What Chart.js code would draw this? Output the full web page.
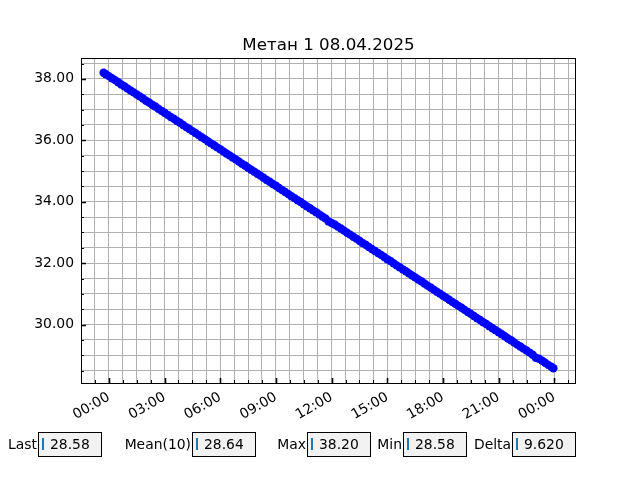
<!DOCTYPE html>
<html>
<head>
<meta charset="utf-8">
<title>Метан 1 08.04.2025</title>
<script src="https://cdn.jsdelivr.net/npm/chart.js@4.4.1/dist/chart.umd.min.js"></script>
<style>
    html, body { margin: 0; padding: 0; background: #fff; }
    #wrap { position: relative; width: 640px; height: 480px; font-family: "DejaVu Sans", sans-serif; }
    #chart { position: absolute; left: 0; top: 0; }
    .lbl { position: absolute; top: 432px; height: 25px; line-height: 25px; font-size: 13.9px; color: #000; text-align: right; white-space: nowrap; }
    .box { position: absolute; top: 432px; width: 64px; height: 25px; box-sizing: border-box; border: 1px solid #000; background: #f2f2f2; font-size: 13.9px; line-height: 23px; white-space: nowrap; color: #000; }
    .box .cur { position: absolute; left: 2.5px; top: 5px; width: 2px; height: 12px; background: #1f77b4; }
    .box .val { position: absolute; left: 11px; top: 0; }
</style>
</head>
<body>
<div id="wrap">
    <canvas id="chart" width="640" height="480"></canvas>
</div>
<script>
// Messzeitpunkte in Minuten ab 08.04.2025 00:00 (negativ = Vortag)
const timeMinutes = [
    -17, -10,
    0, 10, 20, 30, 40, 50, 60, 70, 80, 90, 100, 110,
    120, 130, 140, 150, 160, 170, 180, 190, 200, 210, 220, 230,
    240, 250, 260, 270, 280, 290, 300, 310, 320, 330, 340, 350,
    360, 370, 380, 390, 400, 410, 420, 430, 440, 450, 460, 470,
    480, 490, 500, 510, 520, 530, 540, 550, 560, 570, 580, 590,
    600, 610, 620, 630, 640, 650, 660, 670, 680, 690, 700, 710,
    720, 730, 740, 750, 760, 770, 780, 790, 800, 810, 820, 830,
    840, 850, 860, 870, 880, 890, 900, 910, 920, 930, 940, 950,
    960, 970, 980, 990, 1000, 1010, 1020, 1030, 1040, 1050, 1060, 1070,
    1080, 1090, 1100, 1110, 1120, 1130, 1140, 1150, 1160, 1170, 1180, 1190,
    1200, 1210, 1220, 1230, 1240, 1250, 1260, 1270, 1280, 1290, 1300, 1310,
    1320, 1330, 1340, 1350, 1360, 1370, 1380, 1390, 1400, 1410, 1420, 1430,
    1437
];

// Messwerte Methan 1
const methaneValues = [
    38.20, 38.15,
    38.09, 38.02, 37.96, 37.89, 37.82, 37.76, 37.69, 37.62, 37.56, 37.49, 37.43, 37.36,
    37.29, 37.23, 37.16, 37.10, 37.03, 36.96, 36.90, 36.83, 36.76, 36.70, 36.63, 36.57,
    36.50, 36.43, 36.37, 36.30, 36.24, 36.17, 36.10, 36.04, 35.97, 35.90, 35.84, 35.77,
    35.71, 35.64, 35.57, 35.51, 35.44, 35.38, 35.31, 35.24, 35.18, 35.11, 35.04, 34.98,
    34.91, 34.85, 34.78, 34.71, 34.65, 34.58, 34.52, 34.45, 34.38, 34.32, 34.25, 34.18,
    34.12, 34.05, 33.99, 33.92, 33.85, 33.79, 33.72, 33.66, 33.59, 33.52, 33.46, 33.36,
    33.31, 33.26, 33.19, 33.13, 33.06, 32.99, 32.93, 32.86, 32.80, 32.73, 32.66, 32.60,
    32.53, 32.46, 32.40, 32.33, 32.27, 32.20, 32.13, 32.07, 32.00, 31.93, 31.87, 31.80,
    31.74, 31.67, 31.60, 31.54, 31.47, 31.41, 31.34, 31.27, 31.21, 31.14, 31.07, 31.01,
    30.94, 30.88, 30.81, 30.74, 30.68, 30.61, 30.55, 30.48, 30.41, 30.35, 30.28, 30.21,
    30.15, 30.08, 30.02, 29.95, 29.88, 29.82, 29.75, 29.69, 29.62, 29.55, 29.49, 29.42,
    29.35, 29.29, 29.22, 29.16, 29.09, 29.02, 28.92, 28.89, 28.83, 28.76, 28.69, 28.63,
    28.58
];

// Achsenbeschriftung
const xTickMinutes = [0, 180, 360, 540, 720, 900, 1080, 1260, 1440];
const xTickLabels = ['00:00', '03:00', '06:00', '09:00', '12:00', '15:00', '18:00', '21:00', '00:00'];
const yTickValues = [30, 32, 34, 36, 38];
const yTickLabels = ['30.00', '32.00', '34.00', '36.00', '38.00'];

// Textfelder unter dem Diagramm
const statNames = ['Last', 'Mean(10)', 'Max', 'Min', 'Delta'];
const statValues = ['28.58', '28.64', '38.20', '28.58', '9.620'];
const statBoxLeft = [38, 192, 307, 403, 512];

const chartTitle = 'Метан 1 08.04.2025';
const fontFamily = '"DejaVu Sans", sans-serif';

// Gitter: Nebenlinien alle 45 min bzw. 0.5
const xGrid = [];
for (let m = -45; m <= 1485; m += 45) xGrid.push(m);
const yGrid = [];
for (let v = 28.5; v <= 38.5; v += 0.5) yGrid.push(Math.round(v * 10) / 10);

/*
 * Plugin: Rahmen, Ticks nach innen, Titel (wie matplotlib)
 */
const axesDecor = {
    id: 'axesDecor',
    afterDraw(chart) {
        const { ctx, chartArea: a, scales: { x, y } } = chart;
        ctx.save();
        ctx.strokeStyle = '#000';
        ctx.lineWidth = 1;

        // Nebenticks
        ctx.beginPath();
        xGrid.forEach(m => {
            const px = Math.round(x.getPixelForValue(m)) + 0.5;
            ctx.moveTo(px, a.bottom);
            ctx.lineTo(px, a.bottom - 3);
        });
        yGrid.forEach(v => {
            const py = Math.round(y.getPixelForValue(v)) + 0.5;
            ctx.moveTo(a.left, py);
            ctx.lineTo(a.left + 3, py);
        });
        ctx.stroke();

        // Hauptticks
        ctx.lineWidth = 1.6;
        ctx.beginPath();
        xTickMinutes.forEach(m => {
            const px = Math.round(x.getPixelForValue(m)) + 0.5;
            ctx.moveTo(px, a.bottom);
            ctx.lineTo(px, a.bottom - 5);
        });
        yTickValues.forEach(v => {
            const py = Math.round(y.getPixelForValue(v)) + 0.5;
            ctx.moveTo(a.left, py);
            ctx.lineTo(a.left + 5, py);
        });
        ctx.stroke();

        ctx.lineWidth = 1;
        ctx.strokeRect(a.left + 0.5, a.top + 0.5, a.right - a.left - 1, a.bottom - a.top);

        ctx.fillStyle = '#000';
        ctx.font = '16.7px ' + fontFamily;
        ctx.textAlign = 'center';
        ctx.textBaseline = 'alphabetic';
        ctx.fillText(chartTitle, (a.left + a.right) / 2, 49.5);
        ctx.restore();
    }
};

const points = timeMinutes.map((t, i) => ({ x: t, y: methaneValues[i] }));

new Chart(document.getElementById('chart'), {
    type: 'line',
    data: {
        datasets: [{
            label: 'Methan 1',
            data: points,
            borderColor: '#0000ff',
            backgroundColor: '#0000ff',
            borderWidth: 2,
            pointRadius: 4.2,
            pointBorderWidth: 0,
            pointBackgroundColor: '#0000ff',
            tension: 0
        }]
    },
    options: {
        responsive: false,
        animation: false,
        layout: {
            padding: { top: 58, right: 64, bottom: 0, left: 0 }
        },
        plugins: {
            legend: { display: false },
            title: { display: false },
            tooltip: { enabled: false }
        },
        scales: {
            x: {
                type: 'linear',
                min: -90,
                max: 1510,
                afterBuildTicks: scale => { scale.ticks = xGrid.map(v => ({ value: v })); },
                afterFit: scale => { scale.height = 97; },
                grid: { color: '#b0b0b0', lineWidth: 1, drawTicks: false },
                border: { display: false },
                ticks: {
                    autoSkip: false,
                    minRotation: 30,
                    maxRotation: 30,
                    padding: 6,
                    color: '#000',
                    font: { family: fontFamily, size: 13.9 },
                    callback: function (value) {
                        const idx = xTickMinutes.indexOf(value);
                        return idx >= 0 ? xTickLabels[idx] : '';
                    }
                }
            },
            y: {
                type: 'linear',
                min: 28.1,
                max: 38.68,
                afterBuildTicks: scale => { scale.ticks = yGrid.map(v => ({ value: v })); },
                afterFit: scale => { scale.width = 81; },
                grid: { color: '#b0b0b0', lineWidth: 1, drawTicks: false },
                border: { display: false },
                ticks: {
                    autoSkip: false,
                    padding: 7,
                    color: '#000',
                    font: { family: fontFamily, size: 13.9 },
                    callback: function (value) {
                        const idx = yTickValues.indexOf(value);
                        return idx >= 0 ? yTickLabels[idx] : '';
                    }
                }
            }
        }
    },
    plugins: [axesDecor]
});

// Textfelder (Last, Mean, Max, Min, Delta)
const wrap = document.getElementById('wrap');
statNames.forEach((name, i) => {
    const left = statBoxLeft[i];
    const lbl = document.createElement('div');
    lbl.className = 'lbl';
    lbl.style.right = (640 - left + 1) + 'px';
    lbl.textContent = name;
    wrap.appendChild(lbl);

    const box = document.createElement('div');
    box.className = 'box';
    box.style.left = left + 'px';
    box.innerHTML = '<span class="cur"></span><span class="val"></span>';
    box.querySelector('.val').textContent = statValues[i];
    wrap.appendChild(box);
});
</script>
</body>
</html>
